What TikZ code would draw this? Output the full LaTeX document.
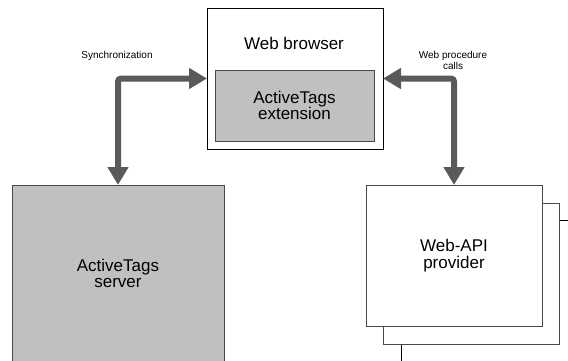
\documentclass[tikz,border=0pt]{standalone}
\usepackage{fontspec}
\setmainfont{Liberation Sans}
\usetikzlibrary{arrows.meta}
\definecolor{boxgray}{HTML}{C0C0C0}
\definecolor{edgegray}{HTML}{4A4A4A}
\definecolor{flowgray}{HTML}{5A5A5A}
\begin{document}
\begin{tikzpicture}[x=1pt,y=-1pt,
  box/.style={draw=edgegray, line width=1pt, inner sep=0pt, outer sep=0pt,
    minimum width=176pt, minimum height=141pt, align=center,
    font=\fontsize{17}{16.5}\selectfont},
  graybox/.style={box, fill=boxgray},
  whitebox/.style={box, fill=white},
  flow/.style={draw=flowgray, line width=6pt, rounded corners=3pt,
    {Triangle[length=18pt,width=20pt]}-{Triangle[length=18pt,width=20pt]}},
  tag/.style={align=center, inner sep=0pt, font=\fontsize{10}{11}\selectfont}]
  \useasboundingbox (0,0) rectangle (568,360);
  \fill[white] (0,0) rectangle (568,360);

  % web browser with its extension
  \node[whitebox, draw=black] (browser) at (295,78.5) {};
  \node[anchor=center, font=\fontsize{17}{16.5}\selectfont] (browsertitle) at (294,43) {Web browser};
  \node[graybox, minimum width=159pt, minimum height=71pt] (ext) at (294.5,105.5) {ActiveTags\\extension};

  % server, running off the lower edge
  \node[graybox, minimum width=212pt, minimum height=177pt] (server) at (118,273.5) {ActiveTags\\server};

  % stacked web-API providers
  \node[whitebox, draw=black] (api3) at (489,290.5) {};
  \node[whitebox] (api2) at (471.5,273.5) {};
  \node[whitebox] (api) at (454,255.5) {Web-API\\provider};

  % connectors
  \draw[flow] (server.north) |- (browser.west);
  \draw[flow] (api.north) |- (browser.east);

  \node[tag] (synclabel) at (117,56) {Synchronization};
  \node[tag] (wpclabel) at (453,60.5) {Web procedure\\calls};
\end{tikzpicture}
\end{document}
